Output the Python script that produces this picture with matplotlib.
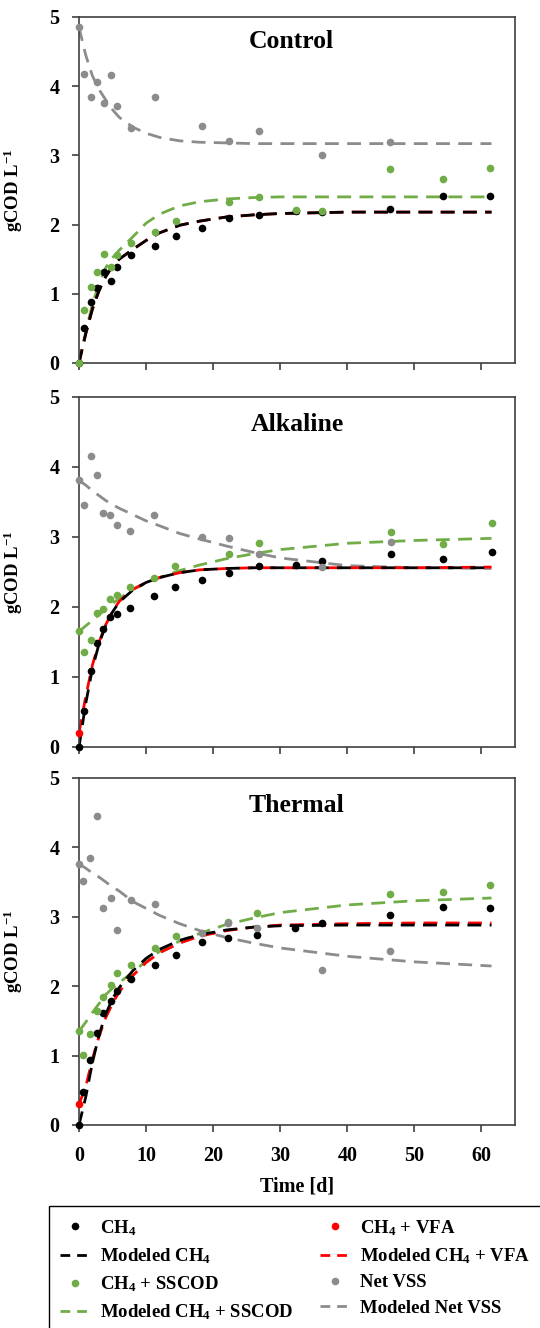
"""COD balance over time for three sludge pretreatments (Control / Alkaline / Thermal).

Three stacked panels sharing the time axis, measured points + modeled dashed curves,
one shared legend box at the bottom.
"""

import matplotlib
matplotlib.use("Agg")
import matplotlib.pyplot as plt  # noqa: E402
from matplotlib.lines import Line2D  # noqa: E402
from matplotlib.patches import Rectangle  # noqa: E402
import numpy as np  # noqa: E402

nan = np.nan

t_ctrl = [0, 0.75, 1.75, 2.75, 3.75, 4.75, 5.6, 7.75, 11.4, 14.4, 18.4, 22.4, 26.9, 32.4, 36.3, 46.3, 54.3, 61.3]
ch4_ctrl = [0, 0.50, 0.88, 1.09, 1.32, 1.18, 1.39, 1.56, 1.69, 1.83, 1.95, 2.09, 2.14, 2.20, 2.18, 2.23, 2.41, 2.41]
sscod_ctrl = [0, 0.77, 1.10, 1.32, 1.58, 1.39, 1.56, 1.74, 1.89, 2.05, nan, 2.33, 2.40, 2.21, 2.19, 2.80, 2.66, 2.82]
vss_ctrl = [4.85, 4.17, 3.84, 4.06, 3.75, 4.16, 3.71, 3.39, 3.84, nan, 3.43, 3.21, 3.35, nan, 3.00, 3.19, nan, nan]
t_vfa_ctrl = []
vfa_ctrl = []

t_alk = [0, 0.75, 1.75, 2.65, 3.65, 4.65, 5.6, 7.6, 11.25, 14.3, 18.3, 22.4, 26.8, 32.4, 36.3, 46.5, 54.3, 61.5]
ch4_alk = [0, 0.51, 1.09, 1.48, 1.69, 1.86, 1.90, 1.99, 2.15, 2.28, 2.38, 2.49, 2.58, 2.60, 2.65, 2.76, 2.69, 2.78]
sscod_alk = [1.65, 1.35, 1.53, 1.91, 1.97, 2.12, 2.17, 2.28, 2.42, 2.58, nan, 2.76, 2.91, nan, nan, 3.07, 2.90, 3.20]
vss_alk = [3.81, 3.46, 4.15, 3.88, 3.34, 3.32, 3.17, 3.09, 3.32, nan, 3.00, 2.98, 2.76, nan, 2.57, 2.93, nan, nan]
t_vfa_alk = [0]
vfa_alk = [0.20]

t_thm = [0, 0.65, 1.65, 2.75, 3.65, 4.7, 5.6, 7.75, 11.4, 14.4, 18.3, 22.2, 26.6, 32.2, 36.3, 46.3, 54.3, 61.3]
ch4_thm = [0, 0.48, 0.94, 1.33, 1.62, 1.79, 1.93, 2.11, 2.30, 2.45, 2.63, 2.70, 2.74, 2.84, 2.91, 3.02, 3.14, 3.12]
sscod_thm = [1.35, 1.01, 1.31, 1.64, 1.85, 2.01, 2.19, 2.30, 2.55, 2.72, nan, 2.93, 3.06, nan, nan, 3.33, 3.35, 3.46]
vss_thm = [3.76, 3.52, 3.85, 4.45, 3.12, 3.27, 2.81, 3.24, 3.18, nan, 2.76, 2.91, 2.84, nan, 2.23, 2.50, nan, nan]
t_vfa_thm = [0]
vfa_thm = [0.30]

# ---- modeled curves ----
t_mod = [0, 1, 2, 3, 4, 5, 6, 8, 10, 12, 15, 18, 22, 26, 30, 40, 50, 61.5]

mod_ch4_ctrl = [0, 0.42, 0.78, 1.05, 1.25, 1.40, 1.50, 1.64, 1.77, 1.88, 1.99, 2.05, 2.11, 2.14, 2.16, 2.18, 2.18, 2.18]
mod_vfa_ctrl = [0, 0.42, 0.78, 1.05, 1.25, 1.40, 1.50, 1.64, 1.77, 1.88, 1.99, 2.05, 2.11, 2.14, 2.16, 2.18, 2.18, 2.18]
mod_sscod_ctrl = [0, 0.45, 0.85, 1.15, 1.38, 1.52, 1.63, 1.82, 2.02, 2.15, 2.27, 2.33, 2.37, 2.39, 2.40, 2.40, 2.40, 2.40]
mod_vss_ctrl = [4.85, 4.45, 4.15, 3.95, 3.80, 3.66, 3.55, 3.41, 3.32, 3.26, 3.21, 3.19, 3.18, 3.17, 3.17, 3.17, 3.17, 3.17]

mod_ch4_alk = [0.0, 0.62, 1.12, 1.48, 1.74, 1.93, 2.07, 2.24, 2.35, 2.42, 2.49, 2.53, 2.55, 2.56, 2.56, 2.56, 2.56, 2.56]
mod_vfa_alk = [0.20, 0.72, 1.17, 1.50, 1.75, 1.94, 2.08, 2.25, 2.35, 2.42, 2.49, 2.53, 2.55, 2.56, 2.56, 2.56, 2.56, 2.57]
mod_sscod_alk = [1.65, 1.73, 1.81, 1.89, 1.97, 2.05, 2.12, 2.25, 2.34, 2.42, 2.52, 2.60, 2.69, 2.76, 2.82, 2.91, 2.95, 2.98]
mod_vss_alk = [3.81, 3.74, 3.66, 3.59, 3.52, 3.46, 3.41, 3.32, 3.23, 3.16, 3.05, 2.97, 2.87, 2.78, 2.70, 2.59, 2.56, 2.55]

mod_ch4_thm = [0, 0.40, 0.90, 1.30, 1.60, 1.82, 1.98, 2.22, 2.40, 2.53, 2.66, 2.74, 2.81, 2.85, 2.87, 2.88, 2.88, 2.88]
mod_vfa_thm = [0.30, 0.55, 0.95, 1.28, 1.55, 1.75, 1.92, 2.15, 2.34, 2.48, 2.62, 2.72, 2.80, 2.85, 2.88, 2.90, 2.91, 2.91]
mod_sscod_thm = [1.35, 1.48, 1.62, 1.75, 1.88, 1.97, 2.05, 2.20, 2.36, 2.50, 2.65, 2.76, 2.89, 2.98, 3.06, 3.17, 3.23, 3.27]
mod_vss_thm = [3.76, 3.70, 3.63, 3.57, 3.50, 3.43, 3.37, 3.22, 3.12, 3.02, 2.90, 2.80, 2.70, 2.62, 2.55, 2.43, 2.35, 2.29]

panel_titles = ["Control", "Alkaline", "Thermal"]
x_ticks = [0, 10, 20, 30, 40, 50, 60]
y_ticks = [0, 1, 2, 3, 4, 5]

C_BLACK = "black"
C_RED = "#ff0000"
C_GREEN = "#70ad47"
C_GRAY = "#8c8c8c"
C_FRAME = "#404040"

plt.rcParams["font.family"] = ["Liberation Serif", "DejaVu Serif"]
plt.rcParams["font.weight"] = "bold"
plt.rcParams["mathtext.fontset"] = "custom"
plt.rcParams["mathtext.rm"] = "Liberation Serif:bold"
plt.rcParams["mathtext.bf"] = "Liberation Serif:bold"
plt.rcParams["mathtext.it"] = "Liberation Serif:italic:bold"

DASH = (5, 3)
LW = 2.0
MS = 5.5


def _draw_panel(ax, title, title_xy, pts, mods):
    t, ch4, sscod, vss, t_vfa, vfa = pts
    m_ch4, m_vfa, m_sscod, m_vss = mods

    # modeled curves first, points on top
    ax.plot(t_mod, m_vss, color=C_GRAY, lw=LW, dashes=DASH, zorder=2)
    ax.plot(t_mod, m_sscod, color=C_GREEN, lw=LW, dashes=DASH, zorder=2)
    ax.plot(t_mod, m_vfa, color=C_RED, lw=LW, dashes=DASH, zorder=2)
    ax.plot(t_mod, m_ch4, color=C_BLACK, lw=LW, dashes=DASH, zorder=2)

    ax.plot(t, ch4, "o", ms=MS, color=C_BLACK, mew=0, clip_on=False, zorder=3)
    ax.plot(t_vfa, vfa, "o", ms=MS, color=C_RED, mew=0, clip_on=False, zorder=3)
    ax.plot(t, sscod, "o", ms=MS, color=C_GREEN, mew=0, clip_on=False, zorder=4)
    ax.plot(t, vss, "o", ms=MS, color=C_GRAY, mew=0, clip_on=False, zorder=4)

    ax.set_xlim(0, 65)
    ax.set_ylim(0, 5)
    ax.set_xticks(x_ticks)
    ax.set_yticks(y_ticks)
    ax.tick_params(direction="out", length=5, width=1.2, color=C_FRAME,
                   labelsize=14.5, pad=9)
    for sp in ax.spines.values():
        sp.set_color(C_FRAME)
        sp.set_linewidth(1.2)

    ax.text(title_xy[0], title_xy[1], title, transform=ax.transAxes,
            ha="center", va="center", fontsize=18.5, fontweight="bold")
    ax.set_ylabel(r"gCOD L$^{-1}$", fontsize=13.5, fontweight="bold")
    ax.yaxis.set_label_coords(-0.125, 0.5)


fig = plt.figure(figsize=(5.4, 13.28), dpi=100)

positions = [
    (0.1463, 0.7267, 0.8074, 0.2605),
    (0.1463, 0.4375, 0.8074, 0.2636),
    (0.1463, 0.1529, 0.8074, 0.2613),
]
title_pos = [(0.486, 0.93), (0.50, 0.92), (0.498, 0.922)]
points = [
    (t_ctrl, ch4_ctrl, sscod_ctrl, vss_ctrl, t_vfa_ctrl, vfa_ctrl),
    (t_alk, ch4_alk, sscod_alk, vss_alk, t_vfa_alk, vfa_alk),
    (t_thm, ch4_thm, sscod_thm, vss_thm, t_vfa_thm, vfa_thm),
]
models = [
    (mod_ch4_ctrl, mod_vfa_ctrl, mod_sscod_ctrl, mod_vss_ctrl),
    (mod_ch4_alk, mod_vfa_alk, mod_sscod_alk, mod_vss_alk),
    (mod_ch4_thm, mod_vfa_thm, mod_sscod_thm, mod_vss_thm),
]

axes = []
for pos, title, txy, pts, mods in zip(positions, panel_titles, title_pos, points, models):
    ax = fig.add_axes(pos)
    _draw_panel(ax, title, txy, pts, mods)
    axes.append(ax)

for ax in axes[:-1]:
    ax.tick_params(labelbottom=False)
axes[-1].tick_params(axis="x", pad=10)
axes[-1].set_xlabel("Time [d]", fontsize=14.5, fontweight="bold", labelpad=8)

# ---- legend: box drawn by hand (runs off the page bottom/right like the original) ----
fig.patches.append(Rectangle((49 / 540, -0.02), 0.95, (1328 - 1206) / 1328 + 0.02,
                             transform=fig.transFigure, fill=False,
                             ec="black", lw=1.0))

LEG_DASH = (3.5, 2.5)


def _pt(c):
    return Line2D([], [], ls="none", marker="o", ms=MS, color=c, mew=0)


def _ln(c):
    return Line2D([], [], color=c, lw=LW, dashes=LEG_DASH)


col1 = [
    (_pt(C_BLACK), r"CH$_4$"),
    (_ln(C_BLACK), r"Modeled CH$_4$"),
    (_pt(C_GREEN), r"CH$_4$ + SSCOD"),
    (_ln(C_GREEN), r"Modeled CH$_4$ + SSCOD"),
]
col2 = [
    (_pt(C_RED), r"CH$_4$ + VFA"),
    (_ln(C_RED), r"Modeled CH$_4$ + VFA"),
    (_pt(C_GRAY), r"Net VSS"),
    (_ln(C_GRAY), r"Modeled Net VSS"),
]
for items, x0 in ((col1, 60 / 540), (col2, 320 / 540)):
    fig.legend([h for h, _ in items], [lab for _, lab in items],
               loc="upper left", bbox_to_anchor=(x0, 1 - 1218 / 1328),
               frameon=False, borderpad=0, borderaxespad=0,
               handlelength=1.55, handletextpad=0.6, labelspacing=0.45,
               prop={"family": "Liberation Serif", "weight": "bold", "size": 13.5})

fig.savefig("out.png", dpi=100)
